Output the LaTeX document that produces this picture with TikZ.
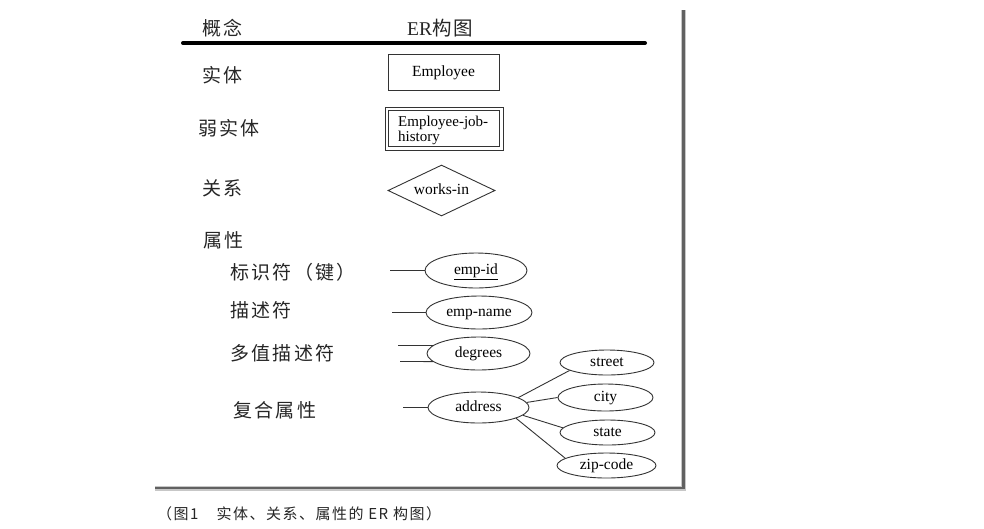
\documentclass[tikz,border=0pt]{standalone}
\usepackage{fontspec}
\setmainfont{Liberation Serif}
\newfontfamily\cjk[LetterSpace=12]{Noto Sans CJK SC}
\newfontfamily\capfont[LetterSpace=10]{Noto Sans CJK SC}
\usetikzlibrary{shapes.geometric}
\tikzset{
  lbl/.style={anchor=west, inner sep=0pt, font=\cjk\fontsize{19}{21}\selectfont, text=black!85},
  ertxt/.style={font=\fontsize{15.5}{15}\selectfont, text height=10pt, text depth=2pt},
  entbox/.style={draw=black!80, line width=0.9pt, rectangle, inner sep=0pt, ertxt},
  attr/.style={draw=black!80, line width=0.9pt, ellipse, inner sep=0pt, ertxt},
  conn/.style={draw=black!80, line width=0.9pt},
}
\begin{document}
\begin{tikzpicture}[x=1pt,y=-1pt]
\useasboundingbox[fill=white] (0,0) rectangle (984,528);
% header
\node[lbl] (h1) at (202,28) {概念};
\node[anchor=west, inner sep=0pt, font=\fontsize{19.5}{21}\selectfont, text=black!85] (h2) at (407,28) {ER{\cjk 构图}};
\coordinate (r1) at (183,43);
\coordinate (r2) at (645,43);
\draw[line width=4pt, line cap=round] (r1) -- (r2);
% entity
\node[lbl] (c1) at (202,75) {实体};
\node[entbox, minimum width=111pt, minimum height=36pt] (emp) at (443.5,72) {Employee};
% weak entity
\node[lbl] (c2) at (198,128) {弱实体};
\node[entbox, minimum width=118pt, minimum height=43pt] (weak) at (444,128.5) {};
\node[entbox, minimum width=111pt, minimum height=36pt] (weakin) at (444,128.5) {};
\node[anchor=west, inner sep=0pt, align=left, font=\fontsize{15}{15}\selectfont] (weakt) at (398,130) {Employee-job-\\history};
% relationship
\node[lbl] (c3) at (202,188) {关系};
\node[diamond, draw=black!80, line width=0.9pt, minimum width=107pt, minimum height=51pt, inner sep=0pt, aspect=2, ertxt] (rel) at (441.5,190.5) {works-in};
% attributes
\node[lbl] (c4) at (203,240) {属性};
\node[lbl] (c5) at (230,272) {标识符（键）};
\node[lbl] (c6) at (230,310) {描述符};
\node[lbl] (c7) at (230,353) {多值描述符};
\node[lbl] (c8) at (233,410) {复合属性};
\node[attr, minimum width=102pt, minimum height=35pt] (empid) at (476,270.5) {\underline{emp-id}};
\node[attr, minimum width=106pt, minimum height=33pt] (empname) at (479,312.5) {emp-name};
\node[attr, minimum width=103pt, minimum height=33pt] (degrees) at (478.5,353.5) {degrees};
\node[attr, minimum width=101pt, minimum height=31pt] (address) at (478.5,407.5) {address};
\node[attr, minimum width=94pt, minimum height=25pt] (street) at (607,362.5) {street};
\node[attr, minimum width=95pt, minimum height=27pt] (city) at (605.5,397.5) {city};
\node[attr, minimum width=95pt, minimum height=25pt] (state) at (607.5,432.5) {state};
\node[attr, minimum width=99pt, minimum height=25pt] (zip) at (606.5,465.5) {zip-code};
\coordinate (a1) at (390,270.5);
\coordinate (a2) at (392,312.5);
\coordinate (a3) at (398,345.5);
\coordinate (a4) at (400,361.5);
\coordinate (a5) at (403,407.5);
\draw[conn] (a1) -- (empid.west);
\draw[conn] (a2) -- (empname.west);
\draw[conn] (a3) -- (degrees.170);
\draw[conn] (a4) -- (degrees.190);
\draw[conn] (a5) -- (address.west);
\draw[conn] (address.14) -- (street.-168);
\draw[conn] (address.6) -- (city.180);
\draw[conn] (address.-10) -- (state.174);
\draw[conn] (address.-16) -- (zip.170);
% frame
\coordinate (f1) at (683.5,10);
\coordinate (f2) at (683.5,488);
\coordinate (f3) at (155,488);
\draw[black!22, line width=5pt] (f1) -- (f2) -- (f3);
\draw[black!62, line width=2.5pt] (f1) -- (f2) -- (f3);
% caption
\node[anchor=west, inner sep=0pt, font=\capfont\fontsize{15}{17}\selectfont, text=black!85] (cap) at (157,514) {（图1　实体、关系、属性的 ER 构图）};
\end{tikzpicture}
\end{document}
